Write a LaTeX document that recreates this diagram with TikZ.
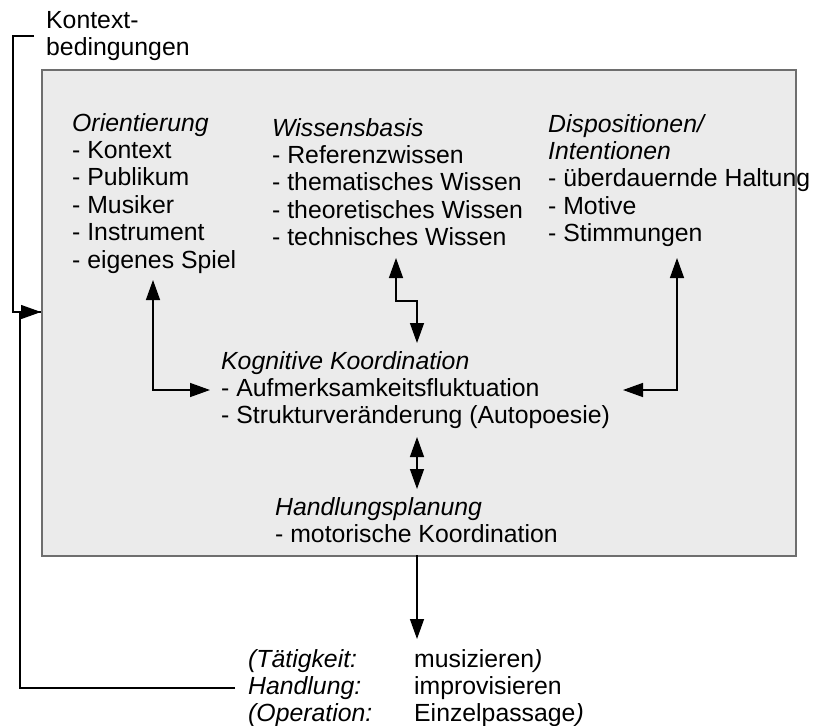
\documentclass[tikz,border=0pt]{standalone}
\usepackage{fontspec}
\setmainfont{Liberation Sans}
\usetikzlibrary{arrows.meta}
\definecolor{boxfill}{HTML}{EBEBEB}
\definecolor{boxline}{HTML}{6E6E6E}
\begin{document}
\begin{tikzpicture}[x=1pt,y=-1pt,
  txt/.style={anchor=base west,inner sep=0pt,align=left,
    font=\fontsize{24.8}{27.4}\selectfont},
  conn/.style={line width=1.4pt,black},
  tip/.style={-{Triangle[length=20pt,width=14pt]}},
  tips/.style={{Triangle[length=20pt,width=14pt]}-{Triangle[length=20pt,width=14pt]}}]
\useasboundingbox (0,0) rectangle (815,726);
% main box
\node[draw=boxline,fill=boxfill,line width=1.8pt,inner sep=0pt,
  minimum width=754pt,minimum height=486pt,anchor=north west] (box) at (41,69) {};
% texts (anchor = baseline of the last line)
\node[txt] (kontext) at (46,55.4) {Kontext-\\bedingungen};
\node[txt] (orient) at (72,268) {\textit{Orientierung}\\- Kontext\\- Publikum\\- Musiker\\- Instrument\\- eigenes Spiel};
\node[txt] (wissen) at (272,245.6) {\textit{Wissensbasis}\\- Referenzwissen\\- thematisches Wissen\\- theoretisches Wissen\\- technisches Wissen};
\node[txt] (dispo) at (548,241.6) {\textit{Dispositionen/}\\\textit{Intentionen}\\- überdauernde Haltung\\- Motive\\- Stimmungen};
\node[txt] (kog) at (221,423.8) {\textit{Kognitive Koordination}\\- Aufmerksamkeitsfluktuation\\- Strukturveränderung (Autopoesie)};
\node[txt] (handl) at (275,542.4) {\textit{Handlungsplanung}\\- motorische Koordination};
\node[txt] (lev) at (248,721.8) {\textit{(Tätigkeit:}\\\textit{Handlung:}\\\textit{(Operation:}};
\node[txt] (act) at (414,721.8) {musizieren\textit{)}\\improvisieren\\Einzelpassage\textit{)}};
% coordinates for connector ends
\coordinate (oTip) at (153,280);
\coordinate (oCorner) at (153,390);
\coordinate (kL) at (210,390);
\coordinate (wTip) at (396,258);
\coordinate (kT) at (417,343);
\coordinate (dTip) at (677,258);
\coordinate (dCorner) at (677,390);
\coordinate (kR) at (623,390);
\coordinate (kB) at (417,437);
\coordinate (hT) at (417,489);
\coordinate (boxB) at (417,555);
\coordinate (levTip) at (417,639);
\coordinate (boxL) at (41,312);
% connectors
\draw[conn,tips] (oTip) -- (oCorner) -- (kL);
\draw[conn,tips] (wTip) -- (396,301) -- (417,301) -- (kT);
\draw[conn,tips] (dTip) -- (dCorner) -- (kR);
\draw[conn,tips] (kB) -- (hT);
\draw[conn,tip] (boxB) -- (levTip);
% feedback loop
\draw[conn,line width=1.2pt] (34,36) -- (13,36) -- (13,312) -- (boxL);
\draw[conn,line width=1.2pt,tip] (235,688) -- (20,688) -- (20,312) -- (boxL);
\end{tikzpicture}
\end{document}
